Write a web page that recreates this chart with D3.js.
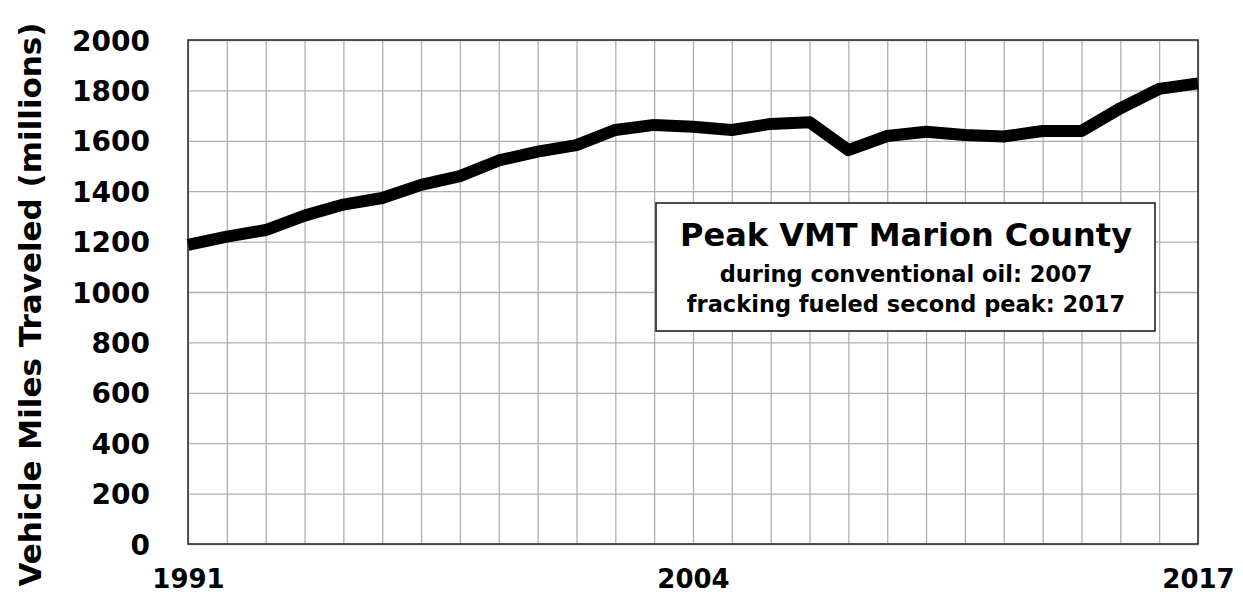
<!DOCTYPE html>
<html>
<head>
<meta charset="utf-8">
<script src="https://cdn.jsdelivr.net/npm/d3@7"></script>
<style>
  body { margin: 0; background: #fff; }
  text { font-family: "DejaVu Sans", sans-serif; font-weight: bold; fill: #000; }
</style>
</head>
<body>
<div id="chart"></div>
<script>
var width = 1243;
var height = 597;

// VMT, Marion County, millions
const years = d3.range(1991, 2018);
const vmt = [1187, 1220, 1246, 1303, 1347, 1373, 1425, 1460, 1522, 1557, 1583,
             1643, 1663, 1656, 1643, 1667, 1674, 1563, 1619, 1636, 1623, 1617,
             1639, 1639, 1729, 1806, 1828];
const yTicks = [0, 200, 400, 600, 800, 1000, 1200, 1400, 1600, 1800, 2000];
const xLabels = [1991, 2004, 2017];
const boxLines = ["Peak VMT Marion County",
                  "during conventional oil: 2007",
                  "fracking fueled second peak: 2017"];

var margin = {left: 188, right: 45, top: 40, bottom: 53};

var x = d3.scaleLinear()
  .domain([1991, 2017])
  .range([margin.left, width - margin.right]);

var y = d3.scaleLinear()
  .domain([0, 2000])
  .range([height - margin.bottom, margin.top]);

let svg = d3.select("#chart")
  .append("svg")
  .attr("width", width)
  .attr("height", height);

// grid
svg.append("g")
  .attr("transform", "translate(0," + (height - margin.bottom) + ")")
  .call(d3.axisBottom(x).tickValues(years).tickSize(-(y(0) - y(2000))).tickFormat(""))
  .call(g => g.select(".domain").remove())
  .selectAll("line")
    .attr("stroke", "#b0b0b0")
    .attr("stroke-width", 1.3);

svg.append("g")
  .attr("transform", "translate(" + margin.left + ",0)")
  .call(d3.axisLeft(y).tickValues(yTicks).tickSize(-(x(2017) - x(1991))).tickFormat(""))
  .call(g => g.select(".domain").remove())
  .selectAll("line")
    .attr("stroke", "#b0b0b0")
    .attr("stroke-width", 1.3);

// frame
svg.append("rect")
  .attr("x", x(1991))
  .attr("y", y(2000))
  .attr("width", x(2017) - x(1991))
  .attr("height", y(0) - y(2000))
  .attr("fill", "none")
  .attr("stroke", "#333")
  .attr("stroke-width", 1.6);

// y tick labels
svg.append("g")
  .attr("transform", "translate(" + margin.left + ",0)")
  .call(d3.axisLeft(y).tickValues(yTicks).tickSize(0).tickPadding(38).tickFormat(d3.format("d")))
  .call(g => g.select(".domain").remove())
  .selectAll("text")
    .attr("font-size", 28)
    .attr("dy", "0.36em");

// x tick labels
svg.append("g")
  .attr("transform", "translate(0," + (height - margin.bottom) + ")")
  .call(d3.axisBottom(x).tickValues(xLabels).tickSize(0).tickPadding(26).tickFormat(d3.format("d")))
  .call(g => g.select(".domain").remove())
  .selectAll("text")
    .attr("font-size", 26);

// the line
var line = d3.line()
  .x((d, i) => x(years[i]))
  .y(d => y(d));

svg.append("path")
  .datum(vmt)
  .attr("d", line)
  .attr("fill", "none")
  .attr("stroke", "#000")
  .attr("stroke-width", 12)
  .attr("stroke-linejoin", "round");

// y axis title
svg.append("text")
  .attr("transform", "translate(41," + (height / 2 + 6) + ") rotate(-90)")
  .attr("text-anchor", "middle")
  .attr("font-size", 31)
  .text("Vehicle Miles Traveled (millions)");

// annotation box
var box = svg.append("g");
box.append("rect")
  .attr("x", 656)
  .attr("y", 203)
  .attr("width", 499)
  .attr("height", 128)
  .attr("fill", "#fff")
  .attr("stroke", "#222")
  .attr("stroke-width", 1.6);

box.selectAll("text")
  .data(boxLines)
  .enter().append("text")
  .attr("x", 906)
  .attr("y", (d, i) => [246, 282, 312][i])
  .attr("text-anchor", "middle")
  .attr("font-size", (d, i) => i === 0 ? 32 : 22.5)
  .text(d => d);
</script>
</body>
</html>
